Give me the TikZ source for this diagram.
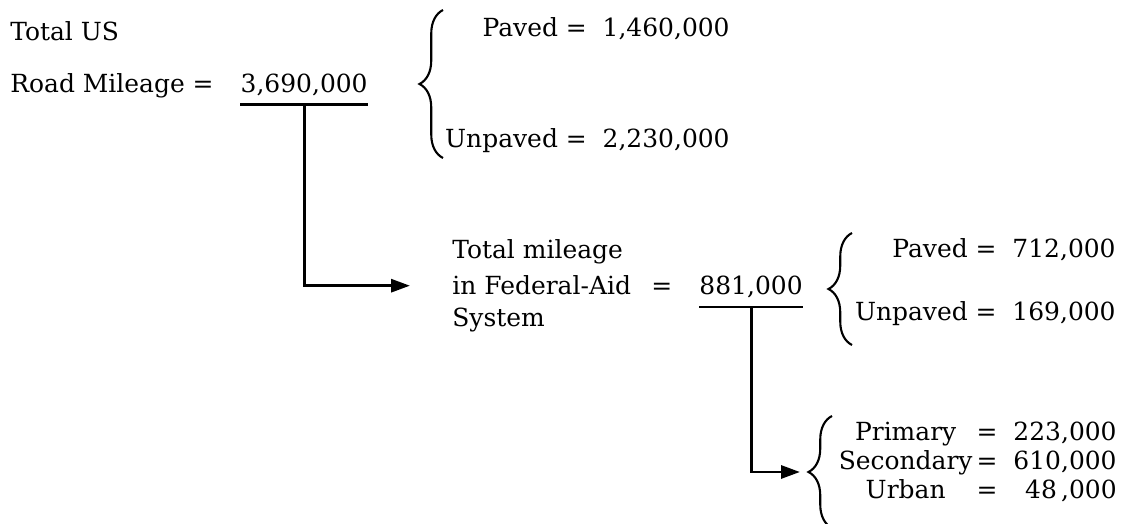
\documentclass[tikz,border=0pt]{standalone}
\usepackage{fontspec}
\setmainfont{DejaVu Serif}
\usetikzlibrary{arrows.meta,positioning,calc,decorations.pathreplacing}

\begin{document}
\begin{tikzpicture}[x=0.02cm,y=0.02cm,
    txt/.style={font=\fontsize{14.2}{20.4}\selectfont,inner sep=0pt},
    bar/.style={line width=1.7pt},
    lead/.style={line width=1.7pt,-{Triangle[length=0.38cm,width=0.26cm]}},
    curly/.style={line width=1.2pt,decorate,decoration={brace,amplitude=0.47cm}}]
  \useasboundingbox (0,0) rectangle (1127,524);
  % ---- all US roads
  \node[txt,anchor=base west] (us) at (10,483) {Total US};
  \node[txt,anchor=base west] (road) at (10,431) {Road Mileage =};
  \node[txt,anchor=base east] (total) at (368,431) {3,690,000};
  \draw[bar] ([yshift=-0.24cm]total.base west) -- ([yshift=-0.24cm]total.base east);
  \coordinate (totalbar) at ([yshift=-0.24cm]total.base);
  \draw[curly] (443,366) -- (443,514);
  \node[txt,anchor=base east] (paved) at (730,487) {Paved = \ 1,460,000};
  \node[txt,anchor=base east] (unpaved) at (730,376) {Unpaved = \ 2,230,000};
  % ---- federal-aid system
  \node[txt,anchor=base west] (fedtop) at (452,265) {Total mileage};
  \node[txt,anchor=base west] (fed) at (452,229) {in Federal-Aid \hspace{0.25cm}=};
  \node[txt,anchor=base west] (fedsys) at (452,197) {System};
  \node[txt,anchor=base east] (fednum) at (803,229) {881,000};
  \draw[bar] ([yshift=-0.24cm]fednum.base west) -- ([yshift=-0.24cm]fednum.base east);
  \coordinate (fedbar) at ([yshift=-0.24cm]fednum.base);
  \draw[lead,shorten >=0.84cm] (totalbar) |- (fed.west);
  \draw[curly] (852,179) -- (852,291);
  \node[txt,anchor=base east] (fedpaved) at (1116,266) {Paved = \ 712,000};
  \node[txt,anchor=base east] (fedunpaved) at (1116,203) {Unpaved = \ 169,000};
  % ---- by system
  \draw[curly] (832,-4) -- (832,108);
  \coordinate (kindtip) at (810,52);
  \node[txt,anchor=base east] (kinds) at (1117,83)
      {\def\arraystretch{0.8}%
       \begin{tabular}[t]{@{}c@{\,=\ \ }r@{}}
         Primary & 223,000\\
         Secondary & 610,000\\
         Urban & 48\,,000
       \end{tabular}};
  \draw[lead,shorten >=0.2cm] (fedbar) |- (kindtip);
\end{tikzpicture}
\end{document}
